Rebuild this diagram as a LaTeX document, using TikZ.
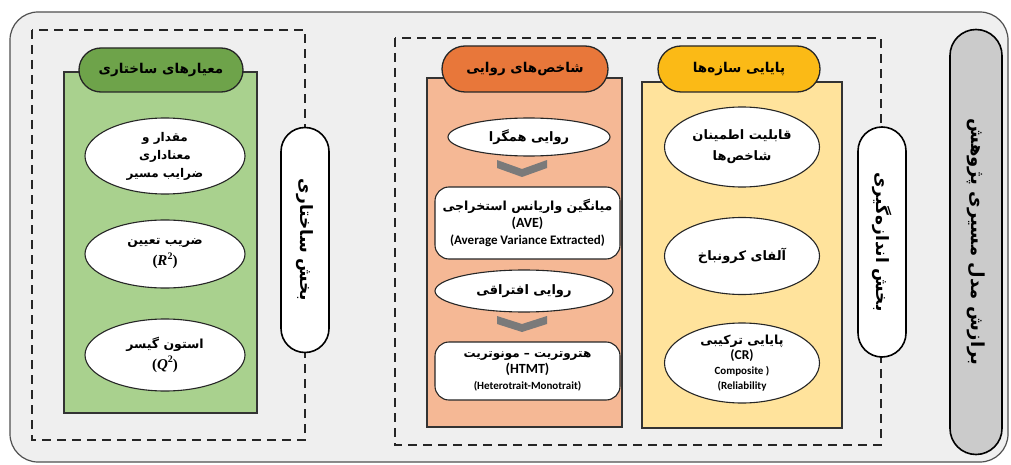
\documentclass[tikz,border=0pt]{standalone}
\usepackage{fontspec}
\usetikzlibrary{shapes.geometric}
\setmainfont{Carlito}
\newfontfamily\arabicfont[Script=Arabic]{DejaVu Sans}
\newfontfamily\mathlike{Liberation Serif}
\TeXXeTstate=1
\newcommand\fatext[1]{{\arabicfont\bfseries\beginR #1\endR}}
\newcommand\sqsym[1]{{\mathlike\bfseries (\textit{#1}\raisebox{0.45em}{\fontsize{10}{10}\selectfont 2})}}
\definecolor{framefill}{HTML}{EFEFEF}
\definecolor{framedraw}{HTML}{505050}
\definecolor{greenpanel}{HTML}{A9D18E}
\definecolor{greenhead}{HTML}{6EA34A}
\definecolor{orangepanel}{HTML}{F5B895}
\definecolor{orangehead}{HTML}{E8773A}
\definecolor{yellowpanel}{HTML}{FFE39C}
\definecolor{yellowhead}{HTML}{FBBA16}
\definecolor{graypill}{HTML}{CBCBCB}
\definecolor{chev}{HTML}{7A7A7A}
\begin{document}
\begin{tikzpicture}[x=1pt,y=-1pt,
  panel/.style={draw=black!80, line width=1.2pt, minimum width=#1},
  headpill/.style={draw=black!85, line width=1.3pt, rounded corners=22pt, minimum width=164pt, minimum height=44pt, inner sep=0pt, font=\fontsize{13.5}{15}\selectfont},
  oval/.style={ellipse, draw=black!85, line width=1.1pt, fill=white, inner sep=0pt, align=center, font=\fontsize{12.5}{19}\selectfont},
  rbox/.style={draw=black!85, line width=1.1pt, fill=white, rounded corners=14pt, inner sep=0pt, align=center, font=\fontsize{12.5}{17}\selectfont},
  vpill/.style={draw=black, line width=1.6pt, rounded corners=24pt, inner sep=0pt, minimum width=48pt},
  vtext/.style={rotate=-90, font=\fontsize{17}{19}\selectfont},
  dashbox/.style={draw=black!85, line width=2pt, dash pattern=on 9pt off 6pt},
  chevron/.style={fill=chev}
]
\useasboundingbox (0,0) rectangle (1011,465);
% outer frame
\draw[fill=framefill, draw=framedraw, line width=1.2pt, rounded corners=28pt] (10,12) rectangle (1008,462);
% dashed groups
\draw[dashbox] (32,30) rectangle (305,440);
\draw[dashbox] (395,38) rectangle (881,445);

% panels
\node[panel=193pt, minimum height=341pt, fill=greenpanel] (gpanel) at (160.5,242.5) {};
\node[panel=195pt, minimum height=349pt, fill=orangepanel] (opanel) at (524.5,252.5) {};
\node[panel=200pt, minimum height=346pt, fill=yellowpanel] (ypanel) at (742,255) {};

% headers
\node[headpill, fill=greenhead] (ghead) at (161,70) {\fatext{معیارهای ساختاری}};
\node[headpill, fill=orangehead, minimum width=166pt, minimum height=46pt, rounded corners=23pt] (ohead) at (525,69) {\fatext{شاخص^^^^200cهای روایی}};
\node[headpill, fill=yellowhead, minimum width=162pt, minimum height=46pt, rounded corners=23pt] (yhead) at (739,69) {\fatext{پایایی سازه^^^^200cها}};

% green ellipses
\node[oval, minimum width=160pt, minimum height=76pt, font=\fontsize{12}{18}\selectfont] (g1) at (165,156) {\fatext{مقدار و}\\\fatext{معناداری}\\\fatext{ضرایب مسیر}};
\node[oval, minimum width=160pt, minimum height=68pt, font=\fontsize{12.5}{21}\selectfont] (g2) at (165,254) {\fatext{ضریب تعیین}\\{\fontsize{15}{17}\selectfont\sqsym{R}}};
\node[oval, minimum width=160pt, minimum height=72pt, font=\fontsize{12.5}{21}\selectfont] (g3) at (165,355) {\fatext{استون گیسر}\\{\fontsize{15}{17}\selectfont\sqsym{Q}}};

% orange items
\node[oval, minimum width=162pt, minimum height=38pt, font=\fontsize{13}{15}\selectfont] (o1) at (529,137) {\fatext{روایی همگرا}};
\fill[chevron] (497,160) -- (522,169) -- (547,160) -- (547,168) -- (522,177) -- (497,168) -- cycle;
\node[rbox, minimum width=185pt, minimum height=72pt] (o2) at (527.5,223) {\fatext{میانگین واریانس استخراجی}\\{\fontsize{14}{17}\selectfont\textbf{(AVE)}}\\{\fontsize{13}{15}\selectfont\textbf{(Average Variance Extracted)}}};
\node[oval, minimum width=178pt, minimum height=42pt, font=\fontsize{13}{15}\selectfont] (o3) at (524,291) {\fatext{روایی افتراقی}};
\fill[chevron] (497,316) -- (522,324) -- (547,316) -- (547,324) -- (522,332) -- (497,324) -- cycle;
\node[rbox, minimum width=185pt, minimum height=58pt, font=\fontsize{12}{16}\selectfont] (o4) at (527.5,371) {\fatext{هتروتریت – مونوتریت}\\{\fontsize{14}{16}\selectfont\textbf{(HTMT)}}\\{\fontsize{11}{13}\selectfont\textbf{(Heterotrait-Monotrait)}}};

% yellow ellipses
\node[oval, minimum width=155pt, minimum height=80pt, font=\fontsize{13}{21}\selectfont] (y1) at (742,147) {\fatext{قابلیت اطمینان}\\\fatext{شاخص^^^^200cها}};
\node[oval, minimum width=155pt, minimum height=77pt, font=\fontsize{13}{15}\selectfont] (y2) at (742,256) {\fatext{آلفای کرونباخ}};
\node[oval, minimum width=155pt, minimum height=80pt, font=\fontsize{12.5}{15}\selectfont] (y3) at (742,363) {\fatext{پایایی ترکیبی}\\{\fontsize{13.5}{16}\selectfont\textbf{(CR)}}\\{\fontsize{11}{13}\selectfont\textbf{Composite )}}\\{\fontsize{11}{13}\selectfont\textbf{(Reliability}}};

% vertical pills
\node[vpill, fill=white, minimum height=225pt] (s1) at (305,240) {};
\node[vtext] (s1t) at (s1.center) {\fatext{بخش ساختاری}};
\node[vpill, fill=white, minimum height=230pt] (s2) at (882,242) {};
\node[vtext] (s2t) at (s2.center) {\fatext{بخش اندازه^^^^200cگیری}};
\node[vpill, fill=graypill, minimum width=52pt, rounded corners=26pt, minimum height=425pt] (s3) at (976,242) {};
\node[vtext, font=\fontsize{18}{20}\selectfont] (s3t) at (s3.center) {\fatext{برازش مدل مسیری پژوهش}};
\end{tikzpicture}
\end{document}
